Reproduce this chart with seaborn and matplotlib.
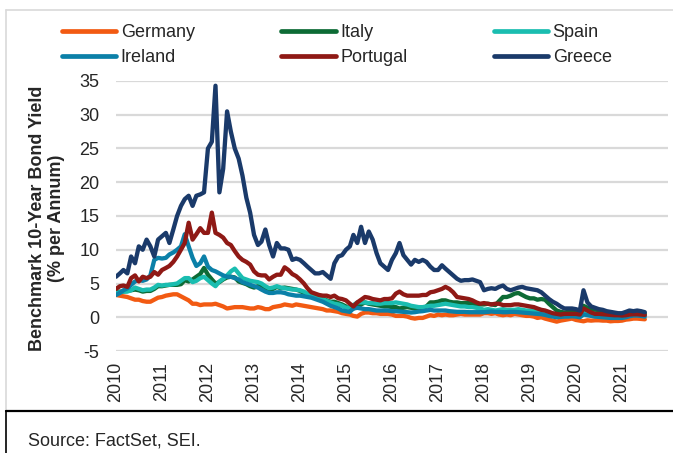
import matplotlib
matplotlib.use("Agg")
import matplotlib.pyplot as plt
import matplotlib.dates as mdates
from matplotlib.lines import Line2D
import pandas as pd
import seaborn as sns

# monthly benchmark 10y yields (% p.a.), Jan 2010 - Jul 2021
germany = [
    3.3, 3.2, 3.1, 3.0, 2.8, 2.6, 2.6, 2.4, 2.3, 2.3, 2.6, 2.9,
    3.0, 3.2, 3.3, 3.4, 3.4, 3.1, 2.8, 2.5, 2.0, 2.0, 1.8, 1.9,
    1.9, 1.9, 2.0, 1.8, 1.6, 1.3, 1.4, 1.5, 1.5, 1.5, 1.4, 1.3,
    1.3, 1.5, 1.4, 1.2, 1.2, 1.5, 1.6, 1.7, 1.9, 1.8, 1.7, 1.9,
    1.8, 1.7, 1.6, 1.5, 1.4, 1.3, 1.2, 1.0, 1.0, 0.9, 0.8, 0.6,
    0.5, 0.4, 0.2, 0.1, 0.5, 0.7, 0.7, 0.6, 0.6, 0.5, 0.5, 0.5,
    0.4, 0.2, 0.2, 0.2, 0.1, -0.1, -0.2, -0.1, -0.1, 0.1, 0.3, 0.2,
    0.4, 0.3, 0.4, 0.3, 0.3, 0.4, 0.5, 0.4, 0.4, 0.4, 0.4, 0.4,
    0.6, 0.6, 0.5, 0.6, 0.4, 0.3, 0.4, 0.3, 0.5, 0.4, 0.3, 0.2,
    0.2, 0.1, -0.1, 0.0, -0.2, -0.35, -0.5, -0.65, -0.5, -0.4, -0.3, -0.2,
    -0.4, -0.5, -0.6, -0.45, -0.5, -0.45, -0.45, -0.5, -0.5, -0.6, -0.55, -0.55,
    -0.5, -0.35, -0.3, -0.2, -0.2, -0.25, -0.3,
]
italy = [
    3.7, 3.8, 3.8, 3.9, 4.0, 4.1, 4.0, 3.8, 3.9, 3.9, 4.2, 4.6,
    4.6, 4.7, 4.8, 4.8, 4.8, 4.9, 5.5, 5.3, 5.6, 6.0, 6.4, 7.3,
    6.3, 5.6, 5.0, 5.2, 5.6, 5.9, 6.0, 5.9, 5.3, 5.1, 4.9, 4.6,
    4.4, 4.6, 4.7, 4.4, 4.0, 4.2, 4.5, 4.3, 4.4, 4.3, 4.2, 4.1,
    3.9, 3.6, 3.4, 3.2, 3.1, 2.9, 2.8, 2.5, 2.3, 2.3, 2.1, 1.9,
    1.6, 1.4, 1.3, 1.5, 1.9, 2.2, 2.0, 1.9, 1.8, 1.7, 1.6, 1.6,
    1.5, 1.5, 1.3, 1.4, 1.5, 1.4, 1.3, 1.2, 1.3, 1.6, 2.2, 2.2,
    2.3, 2.5, 2.5, 2.3, 2.2, 2.2, 2.1, 2.1, 2.1, 2.0, 1.8, 1.9,
    1.9, 2.0, 1.9, 1.8, 2.4, 3.0, 3.0, 3.2, 3.5, 3.6, 3.3, 3.0,
    2.8, 2.8, 2.6, 2.7, 2.6, 2.0, 1.5, 1.0, 0.8, 0.7, 0.8, 0.9,
    0.9, 0.8, 1.7, 1.4, 1.2, 1.0, 0.9, 0.8, 0.65, 0.6, 0.5, 0.45,
    0.4, 0.5, 0.6, 0.7, 0.7, 0.6, 0.55,
]
spain = [
    3.6, 3.7, 3.8, 3.8, 4.0, 4.4, 4.2, 4.0, 4.1, 4.1, 4.4, 4.8,
    4.7, 4.8, 4.8, 4.9, 5.0, 5.4, 5.8, 5.8, 5.2, 5.4, 5.8, 6.0,
    5.5, 5.0, 4.6, 5.3, 5.7, 6.2, 6.8, 7.2, 6.5, 5.8, 5.6, 5.4,
    5.3, 5.2, 5.0, 4.6, 4.3, 4.4, 4.6, 4.4, 4.3, 4.2, 4.1, 4.1,
    4.0, 3.8, 3.5, 3.3, 3.0, 2.8, 2.7, 2.4, 2.2, 2.0, 1.9, 1.7,
    1.4, 1.5, 1.8, 2.2, 2.2, 2.2, 2.1, 2.1, 2.0, 2.0, 2.1, 2.1,
    2.1, 2.2, 2.1, 2.0, 1.9, 1.7, 1.6, 1.5, 1.5, 1.6, 1.7, 1.7,
    1.8, 1.9, 2.0, 1.9, 1.8, 1.7, 1.6, 1.6, 1.5, 1.5, 1.4, 1.3,
    1.1, 1.2, 1.1, 1.0, 1.1, 1.2, 1.1, 1.1, 1.1, 1.2, 1.1, 1.0,
    1.0, 1.0, 0.9, 0.8, 0.7, 0.5, 0.3, 0.2, 0.2, 0.2, 0.35, 0.4,
    0.4, 0.3, 0.8, 0.7, 0.6, 0.5, 0.4, 0.3, 0.25, 0.2, 0.1, 0.05,
    0.05, 0.2, 0.35, 0.45, 0.45, 0.4, 0.35,
]
ireland = [
    3.3, 3.6, 4.0, 4.3, 4.8, 5.3, 5.5, 5.4, 5.6, 6.2, 8.5, 8.8,
    8.7, 8.8, 9.3, 9.6, 10.0, 10.5, 12.3, 10.5, 8.8, 7.6, 8.0, 9.0,
    7.5, 7.0, 6.8, 6.5, 6.2, 6.0, 6.0, 5.8, 5.6, 5.2, 5.0, 4.8,
    4.6, 4.4, 4.1, 3.8, 3.6, 3.6, 3.7, 3.7, 3.6, 3.4, 3.3, 3.2,
    3.2, 3.1, 3.0, 2.9, 2.7, 2.5, 2.3, 2.0, 1.7, 1.5, 1.3, 1.0,
    0.9, 0.8, 1.3, 1.4, 1.3, 1.2, 1.2, 1.1, 1.0, 1.0, 1.0, 1.0,
    0.9, 0.9, 0.85, 0.8, 0.75, 0.7, 0.75, 0.85, 0.9, 1.0, 1.1, 1.0,
    1.0, 1.0, 1.0, 0.9, 0.85, 0.8, 0.8, 0.8, 0.75, 0.75, 0.75, 0.75,
    0.75, 0.8, 0.85, 0.8, 0.8, 0.75, 0.75, 0.8, 0.8, 0.75, 0.7, 0.65,
    0.6, 0.55, 0.5, 0.45, 0.35, 0.2, 0.1, 0.0, 0.05, 0.1, 0.1, 0.15,
    0.1, 0.0, 0.4, 0.3, 0.2, 0.1, 0.05, 0.0, -0.05, -0.1, -0.1, -0.1,
    -0.1, 0.0, 0.15, 0.25, 0.25, 0.2, 0.1,
]
portugal = [
    4.2, 4.6, 4.7, 4.5, 5.8, 6.2, 5.3, 6.0, 5.8, 6.0, 6.7, 6.3,
    7.0, 7.3, 7.6, 8.2, 9.0, 10.0, 11.0, 14.0, 11.5, 12.3, 13.2, 12.5,
    12.5, 15.5, 12.5, 12.2, 11.8, 11.0, 10.7, 9.8, 9.0, 8.5, 8.2, 7.8,
    6.8, 6.3, 6.2, 6.2, 5.6, 6.0, 6.3, 6.3, 7.4, 7.0, 6.4, 6.1,
    5.6, 5.0, 4.3, 3.7, 3.5, 3.3, 3.2, 3.2, 3.0, 3.2, 2.8, 2.7,
    2.5, 2.0, 1.6, 2.2, 2.6, 3.0, 2.9, 2.7, 2.6, 2.5, 2.7, 2.7,
    2.8, 3.5, 3.8, 3.4, 3.2, 3.2, 3.2, 3.2, 3.3, 3.3, 3.7, 3.8,
    4.0, 4.2, 4.5, 4.2, 3.7, 3.0, 2.9, 2.8, 2.7, 2.5, 2.2, 2.0,
    2.1, 2.0, 1.9, 2.0, 2.0, 1.8, 1.8, 1.8, 1.9, 1.9, 1.8, 1.7,
    1.6, 1.5, 1.3, 1.1, 1.0, 0.8, 0.6, 0.5, 0.4, 0.5, 0.5, 0.5,
    0.5, 0.4, 1.3, 1.0, 0.7, 0.5, 0.5, 0.45, 0.4, 0.35, 0.3, 0.3,
    0.25, 0.3, 0.4, 0.45, 0.45, 0.4, 0.35,
]
greece = [
    6.0, 6.5, 7.0, 6.5, 9.0, 8.0, 10.5, 10.0, 11.5, 10.5, 9.0, 11.5,
    12.0, 12.5, 11.0, 13.0, 15.0, 16.5, 17.5, 18.0, 16.5, 18.0, 18.2, 18.5,
    25.0, 26.0, 34.3, 18.5, 22.0, 30.5, 27.5, 25.0, 23.5, 21.0, 17.7, 15.5,
    12.2, 10.7, 11.2, 13.0, 10.7, 9.0, 11.0, 10.2, 10.2, 10.0, 8.5, 8.7,
    8.5, 8.0, 7.5, 7.0, 6.5, 6.5, 6.7, 6.2, 5.7, 8.0, 9.0, 9.2,
    10.0, 10.5, 12.2, 11.0, 13.4, 11.0, 12.7, 11.5, 9.5, 8.0, 7.5, 7.0,
    8.5, 9.5, 11.0, 9.2, 8.5, 7.8, 8.5, 8.2, 8.5, 8.2, 7.5, 7.0,
    7.0, 7.7, 7.2, 6.7, 6.2, 5.7, 5.4, 5.5, 5.5, 5.6, 5.4, 5.2,
    4.0, 4.2, 4.3, 4.2, 4.5, 4.7, 4.2, 4.0, 4.2, 4.4, 4.5, 4.3,
    4.2, 4.1, 4.0, 3.7, 3.2, 2.7, 2.3, 2.0, 1.6, 1.3, 1.3, 1.3,
    1.2, 1.0, 4.0, 2.2, 1.6, 1.4, 1.2, 1.1, 0.9, 0.8, 0.7, 0.6,
    0.6, 0.8, 1.0, 0.9, 1.0, 0.9, 0.75,
]

countries = ["Germany", "Italy", "Spain", "Ireland", "Portugal", "Greece"]
colors = ["#F25A12", "#0D6B35", "#1ABDB0", "#0B80A8", "#8F1915", "#1A3A6A"]
years = list(range(2010, 2022))

dates = pd.date_range("2010-01-01", periods=len(greece), freq="MS")
series = [germany, italy, spain, ireland, portugal, greece]
df = pd.concat(
    [pd.DataFrame({"date": dates, "yield": vals, "country": name})
     for name, vals in zip(countries, series)],
    ignore_index=True,
)

sns.set_theme(style="white")
plt.rcParams["font.family"] = ["Liberation Sans", "DejaVu Sans"]
plt.rcParams["axes.unicode_minus"] = False

W, H = 673, 453
fig = plt.figure(figsize=(W / 100, H / 100), dpi=100)
ax = fig.add_axes([116 / W, (H - 351) / H, 552 / W, 270 / H])

sns.lineplot(data=df, x="date", y="yield", hue="country", hue_order=countries,
             palette=dict(zip(countries, colors)), linewidth=3.1, ax=ax)

ax.set_ylim(-5, 35)
ax.set_yticks(range(-5, 36, 5))
ax.set_xlim(pd.Timestamp("2010-01-01"), pd.Timestamp("2022-01-01"))
ax.set_xticks([pd.Timestamp(f"{y}-01-01") for y in years])
ax.xaxis.set_major_formatter(mdates.DateFormatter("%Y"))
ax.tick_params(axis="x", labelrotation=90, length=0, pad=8, labelsize=13)
ax.tick_params(axis="y", length=0, pad=12, labelsize=13)
for lbl in ax.get_xticklabels():
    lbl.set_va("top")
ax.grid(axis="y", color="#D9D9D9", linewidth=1.6)
ax.grid(axis="x", visible=False)
for s in ax.spines.values():
    s.set_visible(False)
ax.set_xlabel("")
ax.set_ylabel("")

fig.text(47 / W, (H - 218) / H, "Benchmark 10-Year Bond Yield\n(% per Annum)",
         rotation=90, ha="center", va="center", fontsize=13, fontweight="bold",
         multialignment="center", linespacing=1.15)

# legend: rows Germany/Italy/Spain, Ireland/Portugal/Greece
handles, labels = ax.get_legend_handles_labels()
ax.get_legend().remove()
lookup = dict(zip(labels, handles))
order = ["Germany", "Ireland", "Italy", "Portugal", "Spain", "Greece"]
leg = fig.legend([lookup[k] for k in order], order, ncol=3, loc="upper left",
                 bbox_to_anchor=(62 / W, (H - 24) / H), frameon=False,
                 fontsize=13, handlelength=3.0, handletextpad=0.25,
                 columnspacing=4.8, borderpad=0, borderaxespad=0,
                 labelspacing=0.45)
for h in leg.get_lines():
    h.set_linewidth(3.4)

# outer frame and source box
fig.add_artist(Line2D([6 / W, 1], [(H - 10) / H] * 2, color="#D9D9D9", lw=1.2))
fig.add_artist(Line2D([6 / W] * 2, [(H - 10) / H, (H - 411) / H], color="#D9D9D9", lw=1.2))
fig.add_artist(Line2D([6 / W, 1], [(H - 411) / H] * 2, color="black", lw=1.6))
fig.add_artist(Line2D([6 / W] * 2, [(H - 411) / H, 0], color="black", lw=1.2))
fig.text(28 / W, (H - 441) / H, "Source: FactSet, SEI.", fontsize=13,
         ha="left", va="center")

fig.savefig("out.png", dpi=100)
